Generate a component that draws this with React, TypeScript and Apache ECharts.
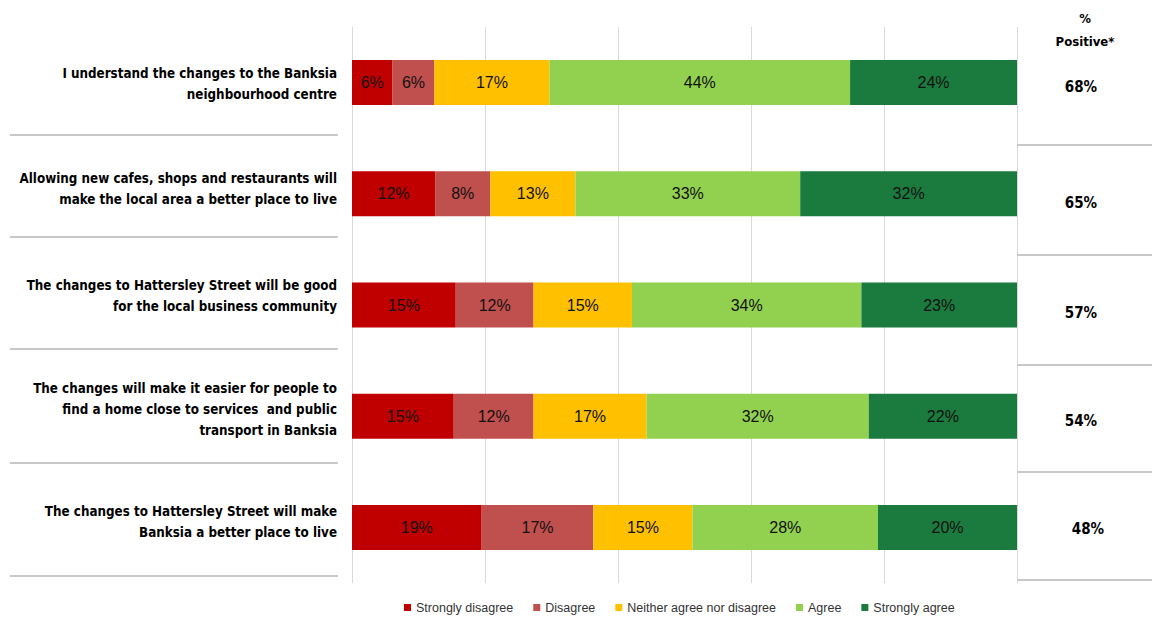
import React, { useEffect, useRef } from "react";
import * as echarts from "echarts";

const categories = [
  "I understand the changes to the Banksia\nneighbourhood centre",
  "Allowing new cafes, shops and restaurants will\nmake the local area a better place to live",
  "The changes to Hattersley Street will be good\nfor the local business community",
  "The changes will make it easier for people to\nfind a home close to services  and public\ntransport in Banksia",
  "The changes to Hattersley Street will make\nBanksia a better place to live",
];

const seriesNames = [
  "Strongly disagree",
  "Disagree",
  "Neither agree nor disagree",
  "Agree",
  "Strongly agree",
];
const seriesColors = ["#C00000", "#C0504D", "#FFC000", "#92D050", "#1B7A3E"];

// bar lengths (share of responses)
const stronglyDisagree = [6.1, 12.5, 15.6, 15.3, 19.5];
const disagree = [6.3, 8.3, 11.7, 12.0, 16.8];
const neither = [17.3, 12.8, 14.8, 17.0, 14.9];
const agree = [45.2, 33.8, 34.5, 33.4, 27.9];
const stronglyAgree = [25.1, 32.6, 23.4, 22.3, 20.9];

// labels printed on the bars
const stronglyDisagreeShown = [6, 12, 15, 15, 19];
const disagreeShown = [6, 8, 12, 12, 17];
const neitherShown = [17, 13, 15, 17, 15];
const agreeShown = [44, 33, 34, 32, 28];
const stronglyAgreeShown = [24, 32, 23, 22, 20];

const positive = [68, 65, 57, 54, 48];

const headFont = "'DejaVu Sans Condensed', 'DejaVu Sans', sans-serif";
const bodyFont = "'Liberation Sans', Arial, sans-serif";

// small per-row nudges of the side texts relative to each bar's centre
const leftNudge = [1, -5, -9, -7, -5];
const rightNudgeY = [4, 9, 8, 5, 2];
const rightX = [1081, 1081, 1081, 1081, 1088];

export default function App() {
  const ref = useRef<HTMLDivElement>(null);
  useEffect(() => {
    if (!ref.current) return;
    const chart = echarts.init(ref.current, null, { renderer: "svg" });
    const values = [stronglyDisagree, disagree, neither, agree, stronglyAgree];
    const shown = [stronglyDisagreeShown, disagreeShown, neitherShown, agreeShown, stronglyAgreeShown];
    const leftSep = [135, 237, 349, 463, 576];
    const rightSep = [145, 255, 365, 472, 580];

    chart.setOption({
      animation: false,
      grid: { left: 352, right: 135, top: 27, bottom: 36, containLabel: false, outerBoundsMode: "none" },
      legend: {
        data: seriesNames,
        left: 404,
        top: 601,
        padding: 0,
        icon: "rect",
        itemWidth: 7,
        itemHeight: 7,
        itemGap: 20,
        textStyle: { fontSize: 12.5, color: "#333", fontFamily: bodyFont },
      },
      xAxis: {
        type: "value",
        min: 0,
        max: 100,
        interval: 20,
        axisLabel: { show: false },
        axisLine: { show: false },
        axisTick: { show: false },
        splitLine: { lineStyle: { color: "#D9D9D9", width: 1 } },
      },
      yAxis: {
        type: "category",
        inverse: true,
        data: categories,
        axisLine: { show: false },
        axisTick: { show: false },
        axisLabel: { show: false },
      },
      series: seriesNames.map((name, s) => ({
        name,
        type: "bar",
        stack: "total",
        barWidth: 45,
        itemStyle: { color: seriesColors[s] },
        label: {
          show: true,
          position: "inside",
          color: "#111",
          fontSize: 16,
          fontFamily: bodyFont,
          formatter: (p: any) => shown[s][p.dataIndex] + "%",
        },
        data: values[s],
      })),
    });

    const graphics: any[] = [];
    leftSep.forEach((y) =>
      graphics.push({
        type: "line",
        shape: { x1: 10, y1: y, x2: 338, y2: y },
        style: { stroke: "#C8C8C8", lineWidth: 2 },
      })
    );
    rightSep.forEach((y) =>
      graphics.push({
        type: "line",
        shape: { x1: 1017, y1: y, x2: 1152, y2: y },
        style: { stroke: "#C8C8C8", lineWidth: 2 },
      })
    );
    graphics.push({
      type: "text",
      x: 1085,
      y: 18,
      style: { text: "%", font: `bold 13px ${headFont}`, fill: "#000", textAlign: "center", textVerticalAlign: "middle" },
    });
    graphics.push({
      type: "text",
      x: 1085,
      y: 41,
      style: { text: "Positive*", font: `bold 13px ${headFont}`, fill: "#000", textAlign: "center", textVerticalAlign: "middle" },
    });
    categories.forEach((cat, i) => {
      const yc = chart.convertToPixel({ yAxisIndex: 0 }, i) as number;
      graphics.push({
        type: "text",
        x: 337,
        y: yc + leftNudge[i],
        style: {
          text: cat,
          font: `bold 13.3px ${headFont}`,
          lineHeight: 21,
          fill: "#000",
          textAlign: "right",
          textVerticalAlign: "middle",
        },
      });
      graphics.push({
        type: "text",
        x: rightX[i],
        y: yc + rightNudgeY[i],
        style: {
          text: positive[i] + "%",
          font: `bold 15px ${headFont}`,
          fill: "#000",
          textAlign: "center",
          textVerticalAlign: "middle",
        },
      });
    });
    chart.setOption({ graphic: graphics });
    return () => chart.dispose();
  }, []);
  return (
    <div
      ref={ref}
      style={{ position: "absolute", left: 0, top: 0, width: 1152, height: 619, background: "#fff" }}
    />
  );
}
